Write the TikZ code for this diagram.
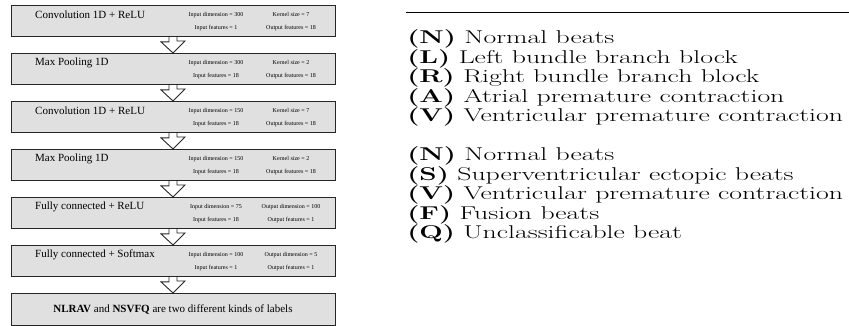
\documentclass[tikz,border=0pt]{standalone}
\usepackage{fontspec}
\newfontfamily\timesfont{Liberation Serif}
\usepackage{tikz}
\usetikzlibrary{positioning}

\begin{document}
\begin{tikzpicture}[x=1pt, y=-1pt]

	\tikzstyle{layer}=[draw=black!85, line width=0.9pt, fill=black!12, minimum width=324pt, minimum height=31pt, anchor=north, inner sep=0pt]
	\tikzstyle{title}=[anchor=west, inner sep=0pt, font=\timesfont\fontsize{11}{12}\selectfont]
	\tikzstyle{param}=[align=center, inner sep=0pt, font=\timesfont\fontsize{6}{13}\selectfont]
	\tikzstyle{hollow}=[draw=black!85, line width=0.9pt, line join=miter]
	\tikzstyle{beat}=[anchor=west, inner sep=0pt, xscale=1.5, font=\fontsize{18.5}{20}\selectfont]

	\useasboundingbox (0,0) rectangle (849,326);

	% layers of the network
	\node[layer] (L1) at (173,5) {};
	\node[title] (T1) at (35,15) {Convolution 1D + ReLU};
	\node[param] (A1) at (216,22) {Input dimension = 300\\Input features = 1};
	\node[param] (B1) at (291,22) {Kernel size = 7\\Output features = 18};

	\node[layer] (L2) at (173,53) {};
	\node[title] (T2) at (35,63) {Max Pooling 1D};
	\node[param] (A2) at (216,70) {Input dimension = 300\\Input features = 18};
	\node[param] (B2) at (291,70) {Kernel size = 2\\Output features = 18};

	\node[layer] (L3) at (173,101) {};
	\node[title] (T3) at (35,111) {Convolution 1D + ReLU};
	\node[param] (A3) at (216,118) {Input dimension = 150\\Input features = 18};
	\node[param] (B3) at (291,118) {Kernel size = 7\\Output features = 18};

	\node[layer] (L4) at (173,149) {};
	\node[title] (T4) at (35,159) {Max Pooling 1D};
	\node[param] (A4) at (216,166) {Input dimension = 150\\Input features = 18};
	\node[param] (B4) at (291,166) {Kernel size = 2\\Output features = 18};

	\node[layer] (L5) at (173,197) {};
	\node[title] (T5) at (35,207) {Fully connected + ReLU};
	\node[param] (A5) at (216,214) {Input dimension = 75\\Input features = 18};
	\node[param] (B5) at (291,214) {Output dimension = 100\\Output features = 1};

	\node[layer] (L6) at (173,245) {};
	\node[title] (T6) at (35,255) {Fully connected + Softmax};
	\node[param] (A6) at (216,262) {Input dimension = 100\\Input features = 1};
	\node[param] (B6) at (291,262) {Output dimension = 5\\Output features = 1};

	\node[layer, minimum height=32pt, font=\timesfont\fontsize{11}{12}\selectfont] (L7) at (173,293)
		{\textbf{NLRAV} and \textbf{NSVFQ} are two different kinds of labels};

	% arrows between the layers
	\foreach \a/\b in {L1/L2,L2/L3,L3/L4,L4/L5,L5/L6,L6/L7}
		\draw[hollow] ([xshift=-4pt]\a.south) -- ++(0,5) -- ++(-8,0) -- (\b.north)
			-- ++(12,-12) -- ++(-8,0) -- ([xshift=4pt]\a.south);

	% first kind of labels
	\draw[line width=0.8pt] (406,12) -- (849,12);
	\node[beat] (N1) at (407,39) {\textbf{(N)} Normal beats};
	\node[beat] (L) at (407,58.5) {\textbf{(L)} Left bundle branch block};
	\node[beat] (R) at (407,78) {\textbf{(R)} Right bundle branch block};
	\node[beat] (A) at (407,97.5) {\textbf{(A)} Atrial premature contraction};
	\node[beat] (V1) at (407,117) {\textbf{(V)} Ventricular premature contraction};

	% second kind of labels
	\node[beat] (N2) at (407,156) {\textbf{(N)} Normal beats};
	\node[beat] (S) at (407,175.5) {\textbf{(S)} Superventricular ectopic beats};
	\node[beat] (V2) at (407,195) {\textbf{(V)} Ventricular premature contraction};
	\node[beat] (F) at (407,214.5) {\textbf{(F)} Fusion beats};
	\node[beat] (Q) at (407,234) {\textbf{(Q)} Unclassificable beat};

\end{tikzpicture}
\end{document}
